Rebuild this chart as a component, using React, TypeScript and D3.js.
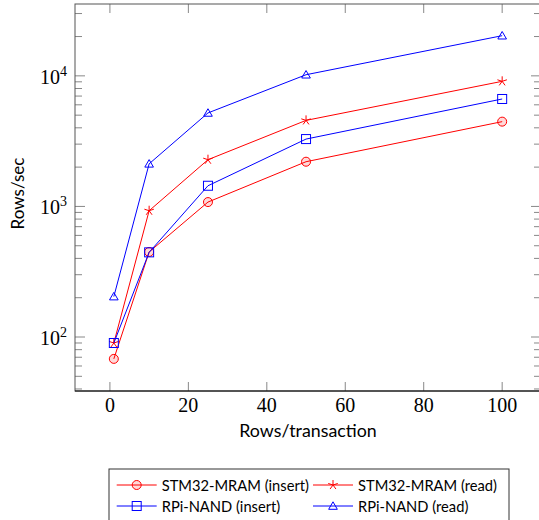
import React from "react";
import * as d3 from "d3";

const xValues = [1, 10, 25, 50, 100];
const stmInsert = [68, 448, 1080, 2200, 4460];
const stmRead = [90, 927, 2280, 4560, 9080];
const rpiInsert = [90, 445, 1440, 3280, 6650];
const rpiRead = [204, 2120, 5200, 10200, 20300];
const xTicks = [0, 20, 40, 60, 80, 100];
const yDecades = [2, 3, 4];
const seriesNames = ["STM32-MRAM (insert)", "STM32-MRAM (read)", "RPi-NAND (insert)", "RPi-NAND (read)"];

const RED = "#ff0000";
const BLUE = "#0000ff";

const W = 539, H = 520;
const L = 75, R = 541, T = 4, B = 391;

function Marker({ type, x, y, color }: { type: string; x: number; y: number; color: string }) {
  if (type === "circle") return <circle cx={x} cy={y} r={4.5} fill="rgba(255,0,0,0.15)" stroke={color} strokeWidth={1} />;
  if (type === "square") return <rect x={x - 4.5} y={y - 4.5} width={9} height={9} fill="none" stroke={color} strokeWidth={1} />;
  if (type === "triangle") {
    const r = 5;
    const pts = [0, 1, 2].map(k => {
      const a = -Math.PI / 2 + (k * 2 * Math.PI) / 3;
      return `${x + r * Math.cos(a)},${y + r * Math.sin(a) + 0.8}`;
    }).join(" ");
    return <polygon points={pts} fill="none" stroke={color} strokeWidth={1} />;
  }
  const r = 5;
  return (
    <g>
      {[0, 1, 2, 3, 4].map(k => {
        const a = -Math.PI / 2 + (k * 2 * Math.PI) / 5;
        return <line key={k} x1={x} y1={y} x2={x + r * Math.cos(a)} y2={y + r * Math.sin(a)} stroke={color} strokeWidth={1} />;
      })}
    </g>
  );
}

export default function App() {
  const x = d3.scaleLinear().domain([-8.9, 109.9]).range([L, R]);
  const y = d3.scaleLog().domain([38.6, 35500]).range([B, T]);

  const series = [
    { vals: stmInsert, color: RED, mark: "circle" },
    { vals: stmRead, color: RED, mark: "star" },
    { vals: rpiInsert, color: BLUE, mark: "square" },
    { vals: rpiRead, color: BLUE, mark: "triangle" },
  ];

  const line = d3.line<number>().x((_, i) => x(xValues[i])).y(d => y(d));

  const minorTicks: number[] = [];
  for (let e = 1; e <= 4; e++) {
    for (let m = 2; m <= 9; m++) {
      const v = m * Math.pow(10, e);
      if (v >= 38.6 && v <= 35500) minorTicks.push(v);
    }
  }

  const tickColor = "#888";
  const legendRows = [
    [{ s: 0, x0: 116.7 }, { s: 1, x0: 313 }],
    [{ s: 2, x0: 116.7 }, { s: 3, x0: 313 }],
  ];

  return (
    <svg width={W} height={H} style={{ position: "absolute", left: 0, top: 0, background: "#fff" }}>
      {minorTicks.map((v, i) => (
        <g key={"m" + i}>
          <line x1={L} x2={L + 7} y1={y(v)} y2={y(v)} stroke={tickColor} strokeWidth={1} />
          <line x1={R} x2={R - 7} y1={y(v)} y2={y(v)} stroke={tickColor} strokeWidth={1} />
        </g>
      ))}
      {yDecades.map(e => {
        const v = Math.pow(10, e);
        return (
          <g key={"y" + e}>
            <line x1={L} x2={L + 10} y1={y(v)} y2={y(v)} stroke={tickColor} strokeWidth={1} />
            <line x1={R} x2={R - 10} y1={y(v)} y2={y(v)} stroke={tickColor} strokeWidth={1} />
            <text x={67} y={y(v) + 8} textAnchor="end" fontFamily="'Liberation Serif', serif" fontSize={20} fill="#000">
              10<tspan dy={-8} fontSize={14}>{e}</tspan>
            </text>
          </g>
        );
      })}
      {xTicks.map(t => (
        <g key={"x" + t}>
          <line x1={x(t)} x2={x(t)} y1={B} y2={B - 9} stroke={tickColor} strokeWidth={1} />
          <line x1={x(t)} x2={x(t)} y1={T} y2={T + 9} stroke={tickColor} strokeWidth={1} />
          <text x={x(t)} y={412} textAnchor="middle" fontFamily="'Liberation Serif', serif" fontSize={20} fill="#000">{t}</text>
        </g>
      ))}
      <rect x={L} y={T} width={R - L} height={B - T} fill="none" stroke="#555" strokeWidth={1} />
      <line x1={L} x2={R} y1={B} y2={B} stroke="#000" strokeWidth={1.2} />

      {series.map((s, si) => (
        <g key={"s" + si}>
          <path d={line(s.vals) || ""} fill="none" stroke={s.color} strokeWidth={1} />
          {s.vals.map((v, i) => (
            <Marker key={i} type={s.mark} x={x(xValues[i])} y={y(v)} color={s.color} />
          ))}
        </g>
      ))}

      <text x={(L + R) / 2} y={437} textAnchor="middle" fontFamily="Lato, sans-serif" fontSize={17.8} fill="#000">Rows/transaction</text>
      <text transform={`translate(24, ${(T + B) / 2 - 4}) rotate(-90)`} textAnchor="middle" fontFamily="Lato, sans-serif" fontSize={17} fill="#000">Rows/sec</text>

      <rect x={109} y={469} width={400} height={60} fill="#fff" stroke="#333" strokeWidth={1} />
      {legendRows.map((row, ri) =>
        row.map(({ s, x0 }) => {
          const cy = ri === 0 ? 485 : 506;
          const sr = series[s];
          return (
            <g key={"l" + s}>
              <line x1={x0} x2={x0 + 40} y1={cy} y2={cy} stroke={sr.color} strokeWidth={1} />
              <Marker type={sr.mark} x={x0 + 20} y={cy} color={sr.color} />
              <text x={x0 + 45} y={cy + 5.5} fontFamily="Lato, sans-serif" fontSize={14.7} fill="#000">{seriesNames[s]}</text>
            </g>
          );
        })
      )}
    </svg>
  );
}
